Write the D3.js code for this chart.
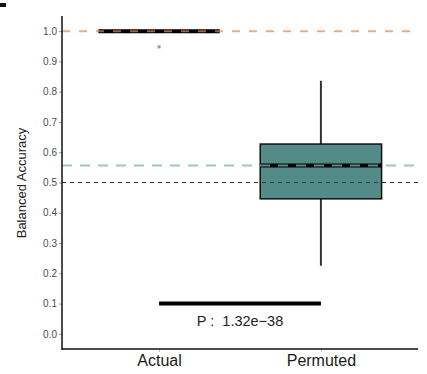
<!DOCTYPE html>
<html><head><meta charset="utf-8">
<script src="https://cdn.jsdelivr.net/npm/d3@7"></script>
<style>body{margin:0;background:#fff;} text{font-family:Arial,"Liberation Sans",sans-serif;}</style>
</head><body>
<svg id="c" width="427" height="374"></svg>
<script>
const categories = ["Actual", "Permuted"];
const q1 = [1.0, 0.446];
const medians = [1.0, 0.556];
const q3 = [1.0, 0.627];
const whiskerLow = [1.0, 0.225];
const whiskerHigh = [1.0, 0.836];
const outliers = [[0.948], []];
const refLines = [1.0, 0.556, 0.5];
const yTicks = [0.0,0.1,0.2,0.3,0.4,0.5,0.6,0.7,0.8,0.9,1.0];
const pLabel = "P :\u00a0\u00a01.32e\u221238";
const pLevel = 0.1;

const svg = d3.select("#c");
const L = 62, R = 418, T = 16, B = 349;
const y = d3.scaleLinear().domain([-0.05, 1.05]).range([B, T]);
const xc = d3.scaleLinear().domain([0.4, 2.6]).range([L, R]);
const x = d => xc(categories.indexOf(d) + 1);
const bw = (xc(1.75) - xc(1.0));

// panel label fragment
svg.append("rect").attr("x",0).attr("y",3).attr("width",6).attr("height",4).attr("fill","#111");

// y axis ticks
const yAxis = d3.axisLeft(y).tickValues(yTicks).tickFormat(d3.format(".1f")).tickSize(3).tickPadding(2);
const ga = svg.append("g").attr("transform",`translate(${L},0)`).call(yAxis);
ga.select(".domain").remove();
ga.selectAll("line").attr("stroke","#999");
ga.selectAll("text").attr("fill","#4d4d4d").style("font-size","10px");

// x axis ticks
const gx = svg.append("g").attr("transform",`translate(0,${B})`)
  .call(d3.axisBottom(xc).tickValues([1,2]).tickFormat(d=>categories[d-1]).tickSize(3).tickPadding(3));
gx.select(".domain").remove();
gx.selectAll("line").attr("stroke","#bbb");
gx.selectAll("text").attr("fill","#1a1a1a").style("font-size","16px");

// boxes
categories.forEach((c,i) => {
  const cx = x(c);
  svg.append("line").attr("x1",cx).attr("x2",cx).attr("y1",y(whiskerHigh[i])).attr("y2",y(q3[i]))
    .attr("stroke","#333").attr("stroke-width",2);
  svg.append("line").attr("x1",cx).attr("x2",cx).attr("y1",y(q1[i])).attr("y2",y(whiskerLow[i]))
    .attr("stroke","#333").attr("stroke-width",2);
  svg.append("rect").attr("x",cx-bw/2).attr("width",bw).attr("y",y(q3[i])).attr("height",Math.max(0,y(q1[i])-y(q3[i])))
    .attr("fill","#528B88").attr("stroke","#111").attr("stroke-width",1.5);
  svg.append("line").attr("x1",cx-bw/2).attr("x2",cx+bw/2).attr("y1",y(medians[i])).attr("y2",y(medians[i]))
    .attr("stroke","#000").attr("stroke-width",4);
  outliers[i].forEach(o => {
    svg.append("rect").attr("x",cx-1.5).attr("y",y(o)-1.5).attr("width",3).attr("height",3).attr("fill","#999");
  });
});

// reference lines
const refColors = ["#E8894F", "#7FB5AE", "#333"];
const refOpacity = [0.7, 0.75, 1];
const refDash = ["8,9", "10,8", "4,4"];
const refWidth = [2, 2, 1];
refLines.forEach((v,i) => {
  svg.append("line").attr("x1",L).attr("x2",R).attr("y1",y(v)).attr("y2",y(v))
    .attr("stroke",refColors[i]).attr("stroke-opacity",refOpacity[i])
    .attr("stroke-width",refWidth[i]).attr("stroke-dasharray",refDash[i]);
});

// p-value segment
svg.append("line").attr("x1",x(categories[0])).attr("x2",x(categories[1])).attr("y1",y(pLevel)).attr("y2",y(pLevel))
  .attr("stroke","#000").attr("stroke-width",4);
svg.append("text").attr("x",(x(categories[0])+x(categories[1]))/2).attr("y",y(pLevel)+22)
  .attr("text-anchor","middle").attr("fill","#222").style("font-size","14.5px").text(pLabel);

// axis lines
svg.append("line").attr("x1",L).attr("x2",L).attr("y1",T).attr("y2",B+1).attr("stroke","#111").attr("stroke-width",1.5);
svg.append("line").attr("x1",L).attr("x2",R).attr("y1",B).attr("y2",B).attr("stroke","#111").attr("stroke-width",1.5);

// y title
svg.append("text").attr("transform",`translate(26,183) rotate(-90)`).attr("text-anchor","middle")
  .attr("fill","#222").style("font-size","13px").text("Balanced Accuracy");
</script>
</body></html>
